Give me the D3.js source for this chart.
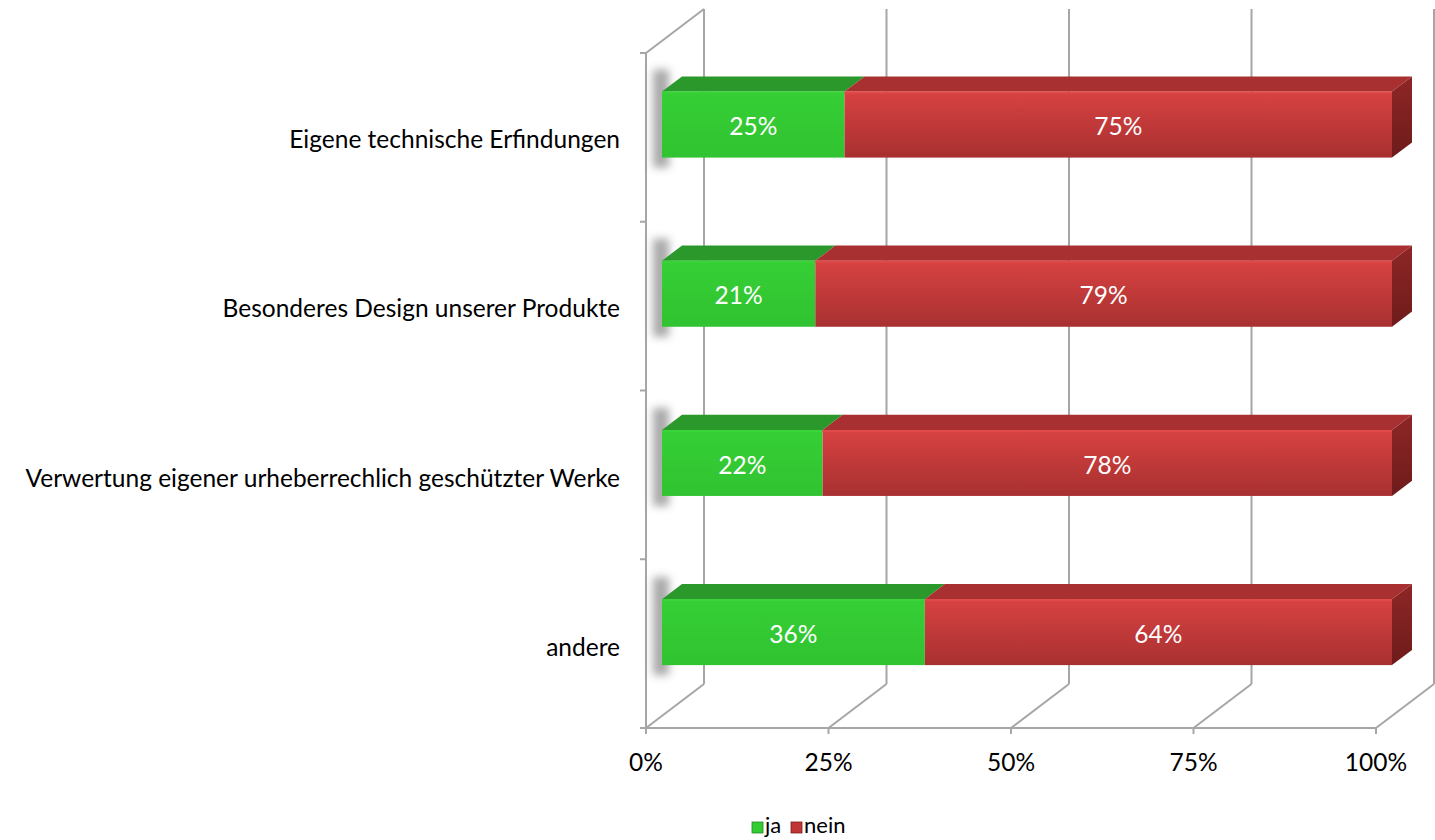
<!DOCTYPE html>
<html><head><meta charset="utf-8">
<script src="https://cdn.jsdelivr.net/npm/d3@7"></script>
<style>html,body{margin:0;padding:0;background:#fff;}svg{display:block;}</style>
</head><body>
<svg id="chart" width="1435" height="840"></svg>
<script>
const categories = ["Eigene technische Erfindungen","Besonderes Design unserer Produkte","Verwertung eigener urheberrechlich geschützter Werke","andere"];
const seriesNames = ["ja","nein"];
const jaValues = [0.25,0.21,0.22,0.36];
const neinValues = [0.75,0.79,0.78,0.64];
const tickValues = [0,0.25,0.5,0.75,1];
const tickLabels = ["0%","25%","50%","75%","100%"];
const colors = {ja:{top:"#2b982b",legend:"#33cc33",legendStroke:"#238a23"},
                nein:{top:"#a93030",legend:"#c03535",legendStroke:"#7a1f1f"}};

const svg = d3.select("#chart");
const font = "Lato, 'Liberation Sans', sans-serif";
const fs = 24.5;
const x = d3.scaleLinear().domain([0,1]).range([646,1376]);
const y = d3.scaleBand().domain(categories).range([53,728]).paddingInner(0.61).paddingOuter(0.3);
const DX = 58, DY = 44;
const P = (xx, yy, d) => [xx + d*DX, yy - d*DY];

const defs = svg.append("defs");
function grad(id, c1, c2){
  const g = defs.append("linearGradient").attr("id",id).attr("x1",0).attr("y1",0).attr("x2",0).attr("y2",1);
  g.append("stop").attr("offset","0%").attr("stop-color",c1);
  g.append("stop").attr("offset","100%").attr("stop-color",c2);
}
grad("gRed", "#d84242", "#a83030");
grad("gGreen", "#35cf35", "#31c331");
grad("gRedSide", "#8e2626", "#6e1b1b");
defs.append("filter").attr("id","blur").attr("x","-100%").attr("y","-50%").attr("width","300%").attr("height","200%")
  .append("feGaussianBlur").attr("stdDeviation",4);

const gridColor = "#a6a6a6";
const grid = svg.append("g").attr("stroke",gridColor).attr("stroke-width",2).attr("fill","none");
tickValues.forEach(v=>{
  const a = P(x(v),53,1), b = P(x(v),728,1);
  grid.append("line").attr("x1",a[0]).attr("y1",a[1]).attr("x2",b[0]).attr("y2",b[1]);
  const f = P(x(v),728,0);
  grid.append("line").attr("x1",f[0]).attr("y1",f[1]).attr("x2",b[0]).attr("y2",b[1]);
});
{
  const a = P(646,53,0), b = P(646,53,1);
  grid.append("line").attr("x1",a[0]).attr("y1",a[1]).attr("x2",b[0]).attr("y2",b[1]);
  grid.append("line").attr("x1",646).attr("y1",53).attr("x2",646).attr("y2",728);
}
grid.append("line").attr("x1",x(0)-6).attr("y1",728).attr("x2",x(1)).attr("y2",728);
tickValues.forEach(v=>{
  grid.append("line").attr("x1",x(v)).attr("y1",728).attr("x2",x(v)).attr("y2",734);
});
const bounds = d3.range(categories.length+1).map(i=>53 + i*(675/categories.length));
bounds.forEach(b=>{
  grid.append("line").attr("x1",640).attr("y1",b).attr("x2",646).attr("y2",b);
});

const d0 = 16/58, d1 = 36/58;
const bars = svg.append("g");
categories.forEach((c,i)=>{
  const yt = y(c), yb = y(c)+y.bandwidth();
  const s0 = P(x(0),yt,d0), s1 = P(x(0),yb,d0);
  bars.append("rect").attr("x",s0[0]-9).attr("y",s0[1]-22).attr("width",16).attr("height",(s1[1]-s0[1])+32)
    .attr("fill","#555").attr("opacity",0.5).attr("filter","url(#blur)");
  const segs = [{name:"ja",v0:0,v1:jaValues[i]},{name:"nein",v0:jaValues[i],v1:jaValues[i]+neinValues[i]}];
  segs.forEach((s,si)=>{
    const col = colors[s.name];
    const xa = x(s.v0), xb = x(s.v1);
    const t = [P(xa,yt,d0),P(xb,yt,d0),P(xb,yt,d1),P(xa,yt,d1)];
    bars.append("path").attr("d","M"+t.join("L")+"Z").attr("fill",col.top);
    const f0 = P(xa,yt,d0), f1 = P(xb,yb,d0);
    bars.append("rect").attr("x",f0[0]).attr("y",f0[1]).attr("width",f1[0]-f0[0]).attr("height",f1[1]-f0[1])
      .attr("fill", s.name==="nein" ? "url(#gRed)" : "url(#gGreen)");
    bars.append("line").attr("x1",f0[0]).attr("x2",f1[0]).attr("y1",f0[1]+1).attr("y2",f0[1]+1)
      .attr("stroke", s.name==="nein" ? "#e04a4a" : "#3ad43a").attr("stroke-width",2);
    if(si===segs.length-1){
      const r = [P(xb,yt,d0),P(xb,yt,d1),P(xb,yb,d1),P(xb,yb,d0)];
      bars.append("path").attr("d","M"+r.join("L")+"Z").attr("fill","url(#gRedSide)");
    }
    bars.append("text").attr("x",(f0[0]+f1[0])/2).attr("y",(f0[1]+f1[1])/2 + 2).attr("dy","0.35em")
      .attr("text-anchor","middle").attr("fill","#fff").attr("font-family",font).attr("font-size",fs)
      .text(Math.round((s.v1-s.v0)*100)+"%");
  });
  svg.append("text").attr("x",620).attr("y",(yt+yb)/2 + 3).attr("dy","0.35em").attr("text-anchor","end")
    .attr("font-family",font).attr("font-size",fs).attr("fill","#000").text(c);
});

tickValues.forEach((v,i)=>{
  svg.append("text").attr("x",x(v)).attr("y",762).attr("dy","0.35em").attr("text-anchor","middle")
    .attr("font-family",font).attr("font-size",fs).attr("fill","#000").text(tickLabels[i]);
});

const leg = svg.append("g");
const legItems = [{name:"ja",x:752},{name:"nein",x:791}];
legItems.forEach(it=>{
  const col = colors[it.name];
  leg.append("rect").attr("x",it.x).attr("y",822).attr("width",11).attr("height",11)
    .attr("fill", col.legend).attr("stroke", col.legendStroke).attr("stroke-width",0.8);
  leg.append("text").attr("x",it.x+13).attr("y",833).attr("font-family",font)
    .attr("font-size",22).attr("fill","#000").text(it.name);
});
</script>
</body></html>
